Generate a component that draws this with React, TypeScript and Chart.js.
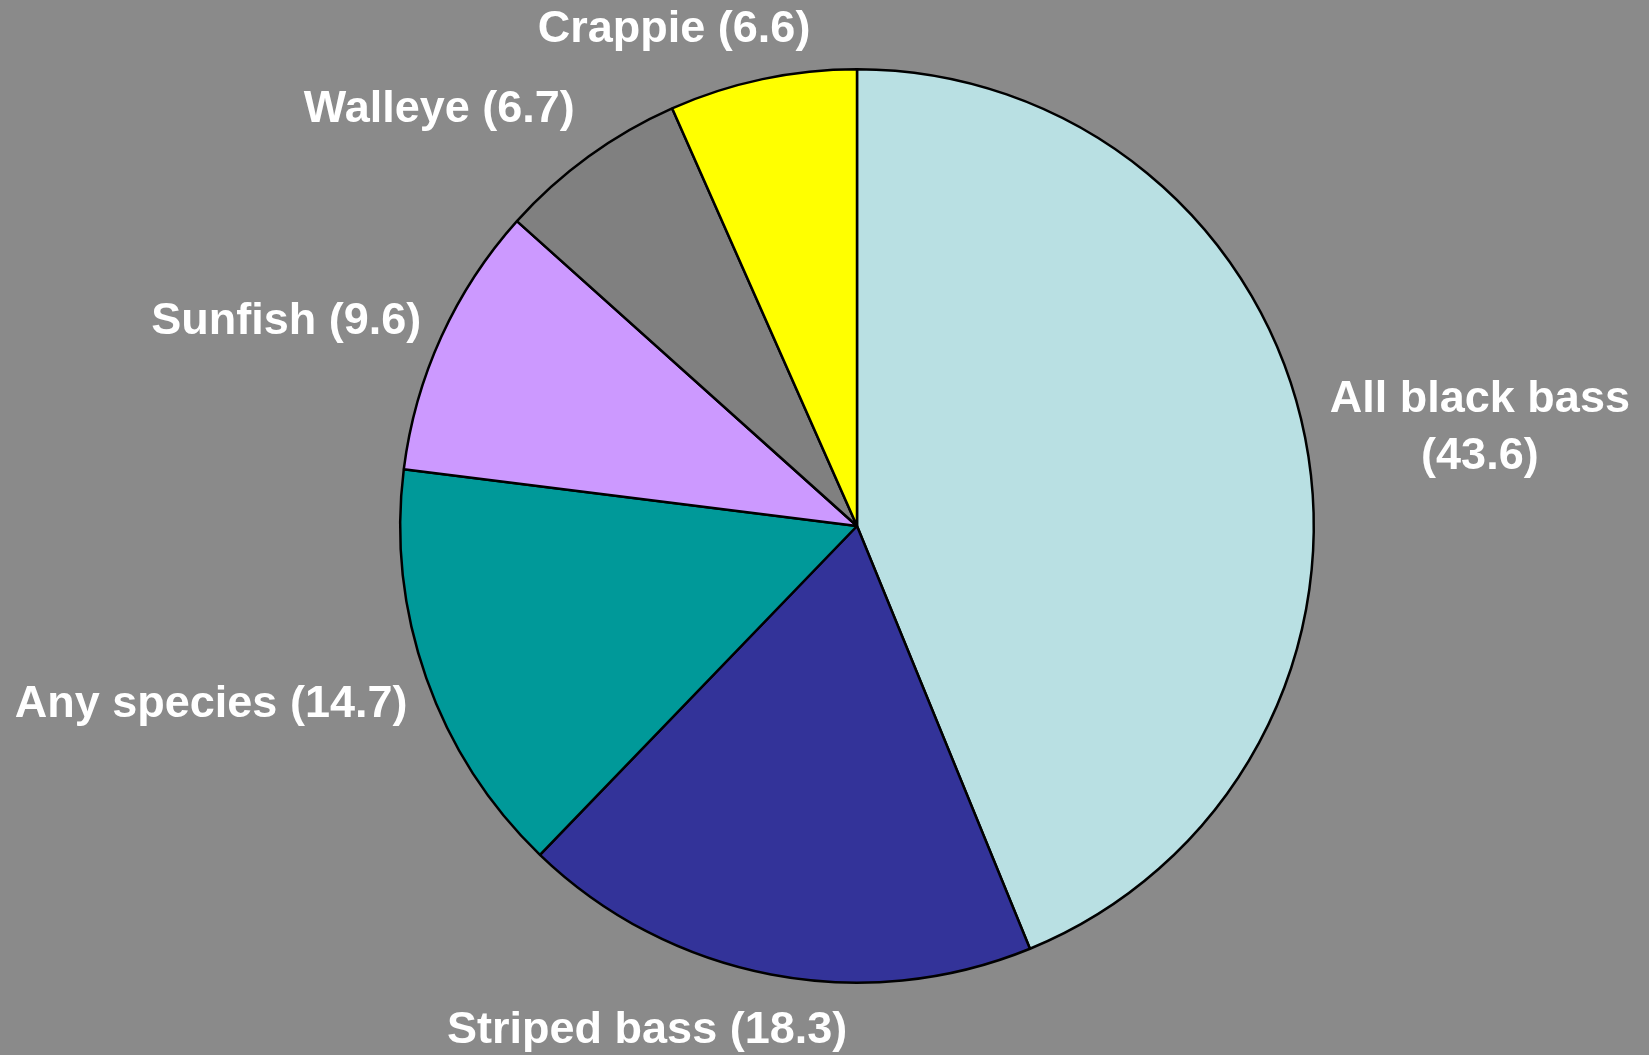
import React, { useEffect, useRef } from "react";
import { Chart, registerables } from "chart.js";

Chart.register(...registerables);

const categories = ["All black bass", "Striped bass", "Any species", "Sunfish", "Walleye", "Crappie"];
const values = [43.6, 18.3, 14.7, 9.6, 6.7, 6.6];
const sliceColors = ["#b9e0e3", "#333399", "#009999", "#cc99ff", "#808080", "#ffff00"];
// label placement adjustments (px) relative to the arc's outside anchor
const labelNudge: [number, number][] = [
  [5, -6],
  [80, 36],
  [0, 20],
  [-2, -7],
  [-2, -31],
  [52, -30],
];

const W = 1649;
const H = 1055;
const FONT = 'bold 45px "Liberation Sans", Arial, sans-serif';

const labelPlugin = {
  id: "outsideLabels",
  afterDatasetsDraw(chart: any) {
    const ctx = chart.ctx as CanvasRenderingContext2D;
    const meta = chart.getDatasetMeta(0);
    ctx.save();
    ctx.font = FONT;
    ctx.fillStyle = "#ffffff";
    ctx.textBaseline = "middle";
    meta.data.forEach((arc: any, i: number) => {
      const p = arc.getProps(["x", "y", "startAngle", "endAngle", "outerRadius"], true);
      const mid = (p.startAngle + p.endAngle) / 2;
      const gap = 20;
      const ax = p.x + Math.cos(mid) * (p.outerRadius + gap);
      const ay = p.y + Math.sin(mid) * (p.outerRadius + gap);
      const right = Math.cos(mid) >= 0;
      const full = `${categories[i]} (${values[i]})`;
      let lines = [full];
      const avail = right ? chart.width - ax : ax;
      if (ctx.measureText(full).width > avail) {
        lines = [categories[i], `(${values[i]})`];
      }
      const widths = lines.map((l) => ctx.measureText(l).width);
      const bw = Math.max(...widths);
      const lh = 57;
      const [nx, ny] = labelNudge[i];
      const left = right ? ax + nx : ax + nx - bw;
      const cx = left + bw / 2;
      const cy = ay + ny;
      ctx.textAlign = "center";
      lines.forEach((l, k) => {
        const y = cy + (k - (lines.length - 1) / 2) * lh;
        ctx.fillText(l, cx, y);
      });
    });
    ctx.restore();
  },
};

export default function App() {
  const ref = useRef<HTMLCanvasElement | null>(null);
  useEffect(() => {
    document.body.style.margin = "0";
    document.body.style.background = "#8a8a8a";
    const chart = new Chart(ref.current!, {
      type: "pie",
      data: {
        labels: categories,
        datasets: [
          {
            data: values,
            backgroundColor: sliceColors,
            borderColor: "#000000",
            borderWidth: 2.5,
          },
        ],
      },
      options: {
        animation: false,
        responsive: false,
        layout: { padding: { left: 399, right: 334, top: 68, bottom: 71 } },
        plugins: {
          legend: { display: false },
          tooltip: { enabled: false },
        },
      },
      plugins: [labelPlugin],
    });
    return () => chart.destroy();
  }, []);
  return (
    <div style={{ position: "fixed", left: 0, top: 0, width: W, height: H, background: "#8a8a8a" }}>
      <canvas ref={ref} width={W} height={H} style={{ display: "block", width: W, height: H }} />
    </div>
  );
}
